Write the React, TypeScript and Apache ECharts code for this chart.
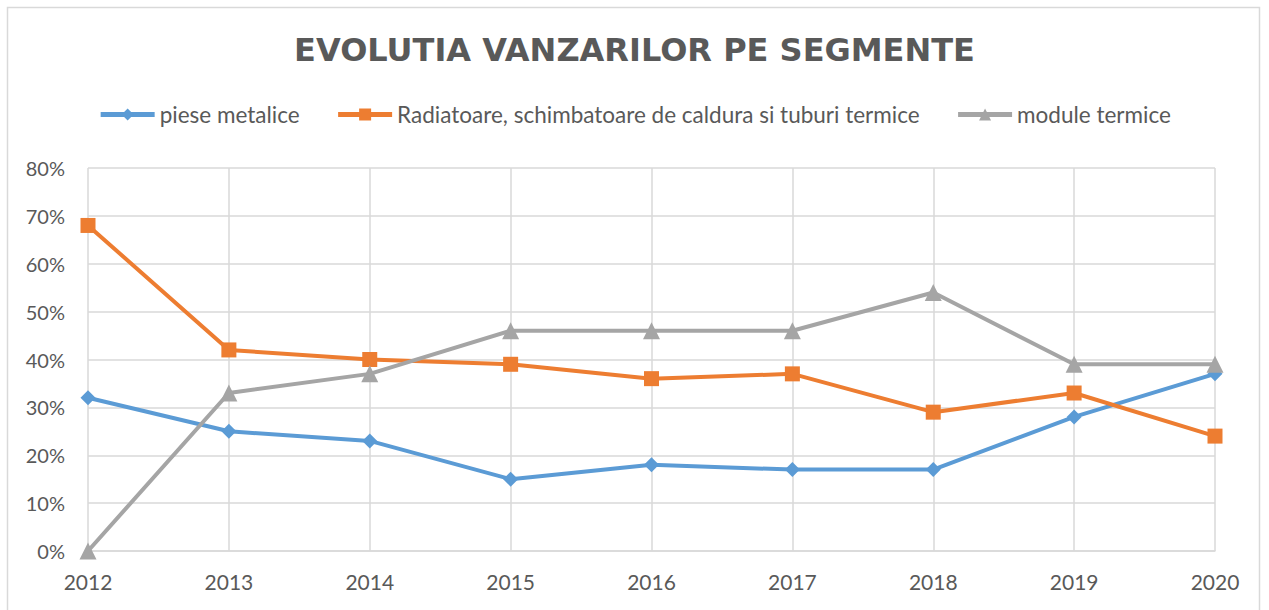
import React, { useEffect, useRef } from "react";
import * as echarts from "echarts";

const years = ["2012", "2013", "2014", "2015", "2016", "2017", "2018", "2019", "2020"];
const pieseMetalice = [32, 25, 23, 15, 18, 17, 17, 28, 37];
const radiatoare = [68, 42, 40, 39, 36, 37, 29, 33, 24];
const moduleTermice = [0, 33, 37, 46, 46, 46, 54, 39, 39];
const seriesNames = [
  "piese metalice",
  "Radiatoare, schimbatoare de caldura si tuburi termice",
  "module termice",
];
const titleText = "EVOLUTIA VANZARILOR PE SEGMENTE";

const FONT = "Lato, 'Open Sans', sans-serif";

export default function App() {
  const ref = useRef<HTMLDivElement>(null);
  useEffect(() => {
    if (!ref.current) return;
    const chart = echarts.init(ref.current, undefined, { renderer: "svg" });
    chart.setOption({
      animation: false,
      backgroundColor: "#ffffff",
      textStyle: { fontFamily: FONT },
      graphic: [
        {
          type: "rect",
          shape: { x: 7.5, y: 7.5, width: 1252, height: 620 },
          style: { fill: "none", stroke: "#d9d9d9", lineWidth: 1.5 },
          silent: true,
        },
      ],
      title: {
        text: titleText,
        left: "center",
        top: 29,
        textStyle: {
          fontFamily: "'DejaVu Sans', sans-serif",
          fontSize: 32,
          fontWeight: "bold",
          color: "#595959",
        },
      },
      legend: {
        top: 98,
        left: "center",
        itemWidth: 54,
        itemHeight: 15,
        itemGap: 36,
        lineStyle: { width: 5 },
        textStyle: { fontFamily: FONT, fontSize: 22.5, color: "#595959" },
        data: seriesNames,
      },
      grid: { left: 88, right: 54, top: 168, bottom: 59, containLabel: false },
      xAxis: {
        type: "category",
        data: years,
        boundaryGap: false,
        axisLine: { show: true, lineStyle: { color: "#d9d9d9", width: 1.5 } },
        axisTick: { show: false },
        axisLabel: { color: "#595959", fontSize: 21, fontFamily: FONT, margin: 20 },
        splitLine: { show: true, lineStyle: { color: "#d9d9d9", width: 1.5 } },
      },
      yAxis: {
        type: "value",
        min: 0,
        max: 80,
        interval: 10,
        axisLine: { show: false },
        axisTick: { show: false },
        axisLabel: { color: "#595959", fontSize: 20, fontFamily: FONT, margin: 23, formatter: "{value}%" },
        splitLine: { show: true, lineStyle: { color: "#d9d9d9", width: 1.5 } },
      },
      series: [
        {
          name: seriesNames[0],
          type: "line",
          data: pieseMetalice,
          symbol: "diamond",
          symbolSize: 15,
          color: "#5B9BD5",
          lineStyle: { width: 4, color: "#5B9BD5" },
          itemStyle: { color: "#5B9BD5" },
          z: 3,
        },
        {
          name: seriesNames[1],
          type: "line",
          data: radiatoare,
          symbol: "rect",
          symbolSize: 15,
          color: "#ED7D31",
          lineStyle: { width: 4, color: "#ED7D31" },
          itemStyle: { color: "#ED7D31" },
          z: 4,
        },
        {
          name: seriesNames[2],
          type: "line",
          data: moduleTermice,
          symbol: "triangle",
          symbolSize: 17,
          color: "#A5A5A5",
          lineStyle: { width: 4, color: "#A5A5A5" },
          itemStyle: { color: "#A5A5A5" },
          z: 5,
        },
      ],
    });
    return () => chart.dispose();
  }, []);
  return (
    <div
      ref={ref}
      style={{ position: "absolute", left: 0, top: 0, width: 1269, height: 610 }}
    />
  );
}
